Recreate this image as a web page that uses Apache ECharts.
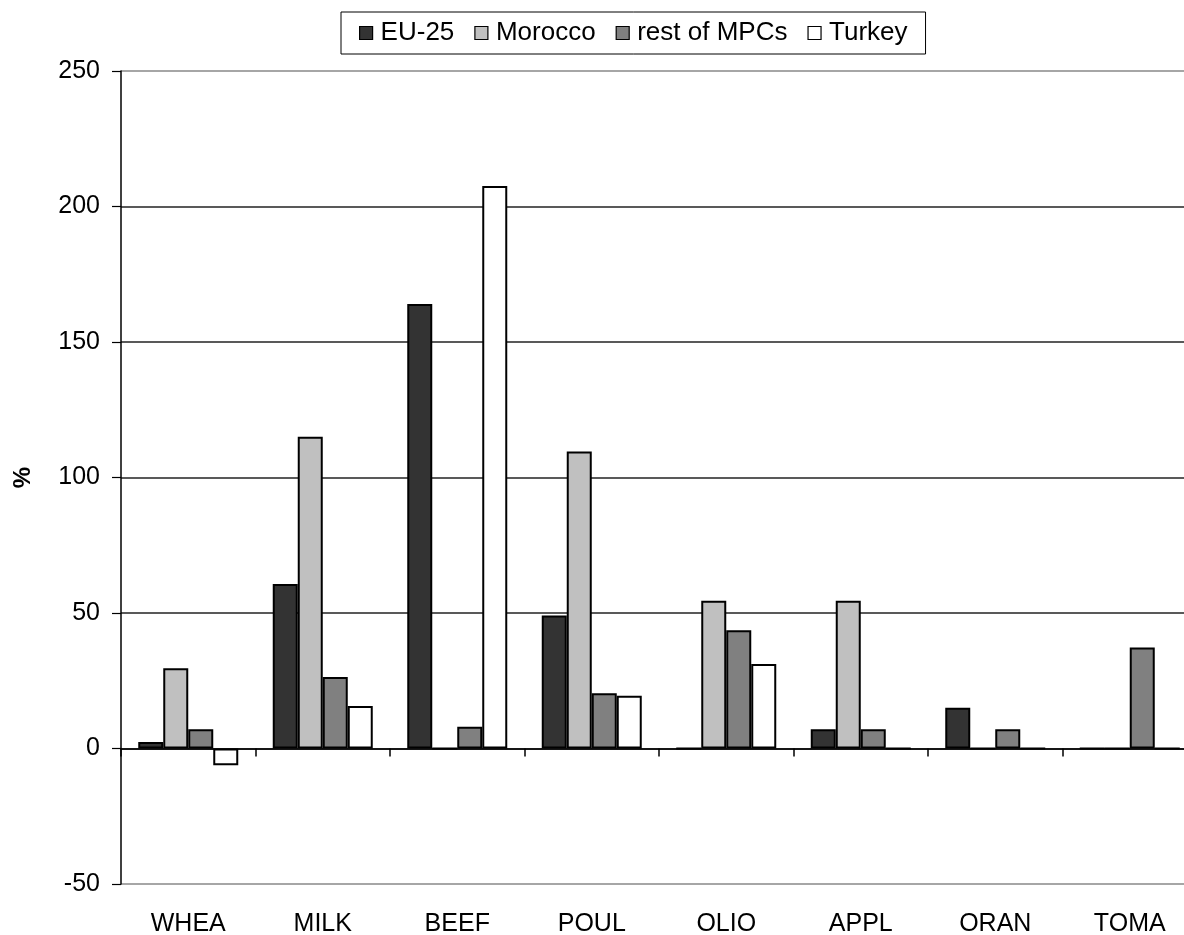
<!DOCTYPE html>
<html>
<head>
<meta charset="utf-8">
<style>
  html, body { margin: 0; padding: 0; background: #fff; }
  #chart { width: 1184px; height: 935px; }
</style>
<script src="https://cdn.jsdelivr.net/npm/echarts@6/dist/echarts.min.js"></script>
</head>
<body>
<div id="chart"></div>
<script>
// Product categories on the horizontal axis
const categories = ['WHEA', 'MILK', 'BEEF', 'POUL', 'OLIO', 'APPL', 'ORAN', 'TOMA'];

// Percentage change per region
const eu25     = [2.4, 60.7, 164.0, 49.1, 0, 7.1, 15.0, 0];
const morocco  = [29.6, 115.0, 0, 109.6, 54.5, 54.5, 0, 0];
const restMPCs = [7.1, 26.4, 8.0, 20.4, 43.6, 7.1, 7.1, 37.3];
const turkey   = [-6.2, 15.7, 207.6, 19.5, 31.2, 0, 0, 0];

// Value axis range and step
const yMin = -50, yMax = 250, yStep = 50;

const FONT = '"Liberation Sans", Arial, sans-serif';

function barSeries(name, data, color) {
  return {
    name: name,
    type: 'bar',
    data: data,
    barWidth: 25,
    barGap: '0%',
    itemStyle: { color: color, borderColor: '#000', borderWidth: 2 },
    emphasis: { disabled: true }
  };
}

const chart = echarts.init(document.getElementById('chart'), null, { renderer: 'canvas' });
chart.setOption({
  animation: false,
  backgroundColor: '#fff',
  textStyle: { fontFamily: FONT, color: '#000' },
  legend: {
    left: 341,
    top: 12,
    padding: [8, 18, 8, 18],
    icon: 'rect',
    itemWidth: 13,
    itemHeight: 13,
    itemGap: 20,
    borderColor: '#000',
    borderWidth: 1,
    backgroundColor: '#fff',
    itemStyle: { borderWidth: 1.2, borderColor: '#000' },
    textStyle: { fontFamily: FONT, fontSize: 26, color: '#000', padding: [0, 0, 0, 3] },
    data: ['EU-25', 'Morocco', 'rest of MPCs', 'Turkey']
  },
  grid: { left: 121, right: -13, top: 71, bottom: 51, containLabel: false, outerBoundsMode: 'none' },
  xAxis: {
    type: 'category',
    data: categories,
    axisLine: { onZero: true, lineStyle: { color: '#000', width: 1.5 } },
    axisTick: { show: true, length: 8, lineStyle: { color: '#000', width: 1.5 } },
    axisLabel: { margin: 28, fontFamily: FONT, fontSize: 25, color: '#000' },
    splitLine: { show: false }
  },
  yAxis: {
    type: 'value',
    min: yMin,
    max: yMax,
    interval: yStep,
    name: '%',
    nameLocation: 'middle',
    nameRotate: 90,
    nameGap: 86,
    nameTextStyle: { fontFamily: FONT, fontSize: 24, fontWeight: 'bold', color: '#000' },
    axisLine: { show: true, lineStyle: { color: '#000', width: 1.5 } },
    axisTick: { show: true, length: 9, lineStyle: { color: '#000', width: 1.2 } },
    axisLabel: { margin: 21, fontFamily: FONT, fontSize: 25, color: '#000' },
    splitLine: {
      show: true,
      lineStyle: { color: ['#888', '#222', '#222', '#222', '#222', '#222', '#888'], width: 1.5 }
    }
  },
  series: [
    barSeries('EU-25', eu25, '#333333'),
    barSeries('Morocco', morocco, '#c0c0c0'),
    barSeries('rest of MPCs', restMPCs, '#808080'),
    barSeries('Turkey', turkey, '#ffffff')
  ]
});
</script>
</body>
</html>
